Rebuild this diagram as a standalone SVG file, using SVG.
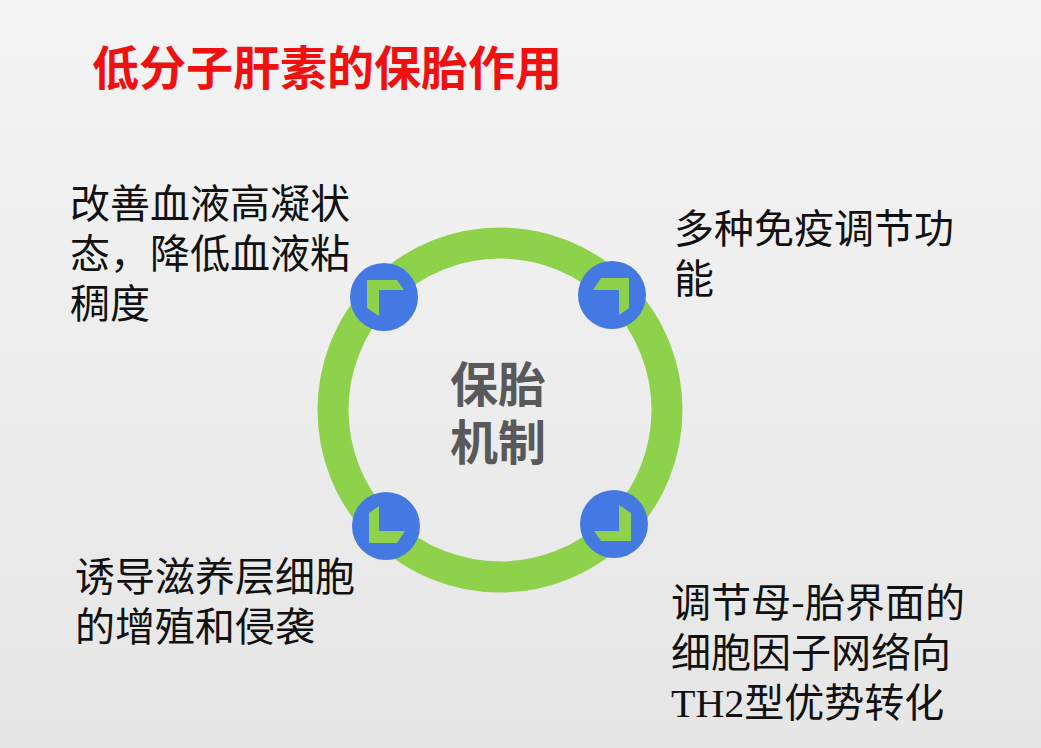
<svg xmlns="http://www.w3.org/2000/svg" width="1041" height="748" viewBox="0 0 1041 748">
<style>
.t{font-family:"Noto Sans CJK SC","Noto Sans",sans-serif;font-size:40px;fill:#111}
.c{font-family:"Noto Sans CJK SC",sans-serif;font-size:48px;font-weight:bold;fill:#595959;text-anchor:middle}
.b{fill:#4478e2}
.g{fill:#8ed14a}
</style>
<defs>
<linearGradient id="bg" x1="0" y1="0" x2="0" y2="1"><stop offset="0" stop-color="#f4f4f4"/><stop offset="1" stop-color="#e6e6e6"/></linearGradient>
<polygon id="ic" points="-17,-17 13,-17 20,-7 -5,-7 -5,19 -17,11" class="g"/>
</defs>
<rect width="1041" height="748" fill="url(#bg)"/>
<text x="92" y="85" style="font-family:'Noto Sans CJK SC',sans-serif;font-size:47px;font-weight:bold;fill:#f01010">低分子肝素的保胎作用</text>
<g id="ring"><circle cx="500" cy="410" r="167" fill="none" stroke="#8ed14a" stroke-width="31"/></g>
<g id="center"><text class="c" x="498" y="402">保胎</text><text class="c" x="498" y="460">机制</text></g>
<g id="n1"><circle class="b" cx="384" cy="297" r="34"/><use href="#ic" transform="translate(384,297)"/></g>
<g id="n2"><circle class="b" cx="612" cy="295" r="34"/><use href="#ic" transform="translate(612,295) rotate(90)"/></g>
<g id="n3"><circle class="b" cx="614" cy="524" r="34"/><use href="#ic" transform="translate(614,524) rotate(180)"/></g>
<g id="n4"><circle class="b" cx="386" cy="526" r="34"/><use href="#ic" transform="translate(386,526) rotate(270)"/></g>
<g id="labels">
<text class="t" x="70" y="218">改善血液高凝状</text>
<text class="t" x="70" y="268">态，降低血液粘</text>
<text class="t" x="70" y="318">稠度</text>
<text class="t" x="674" y="243">多种免疫调节功</text>
<text class="t" x="674" y="293">能</text>
<text class="t" x="75" y="591">诱导滋养层细胞</text>
<text class="t" x="75" y="641">的增殖和侵袭</text>
<text class="t" x="671" y="617">调节母-胎界面的</text>
<text class="t" x="671" y="667">细胞因子网络向</text>
<text class="t" x="671" y="717"><tspan style="font-family:'Liberation Serif',serif">TH2</tspan>型优势转化</text>
</g>
<g id="connectors"/>
</svg>
